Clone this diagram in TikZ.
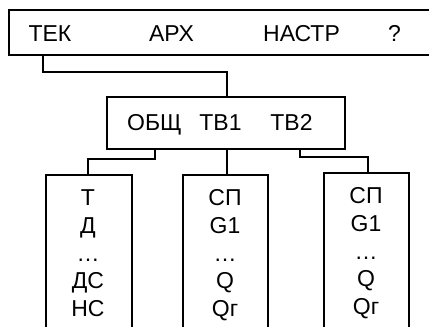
\documentclass[tikz,border=0pt]{standalone}
\usepackage{fontspec}
\setmainfont{Liberation Sans}
\begin{document}
\begin{tikzpicture}[x=1pt,y=-1pt,
  box/.style={draw=black,line width=1.5pt,inner sep=0pt,anchor=north west},
  wire/.style={draw=black,line width=1.5pt},
  lbl/.style={anchor=base,inner sep=0pt,font=\fontsize{23}{23}\selectfont}]
\useasboundingbox (0,0) rectangle (429,327);
\clip (0,0) rectangle (429,327);
\fill[white] (0,0) rectangle (429,327);
% boxes
\node[box,minimum width=430pt,minimum height=45pt] (menu) at (8,9) {};
\node[box,minimum width=238pt,minimum height=52pt] (mid) at (106,96) {};
\node[box,minimum width=86pt,minimum height=170pt] (bl) at (45,174) {};
\node[box,minimum width=85pt,minimum height=170pt] (bm) at (182,174) {};
\node[box,minimum width=85pt,minimum height=172pt] (br) at (323,172) {};
% top labels
\node[lbl] (tek) at (50,41) {ТЕК};
\node[lbl] (arh) at (171.5,41) {АРХ};
\node[lbl] (nastr) at (301.5,41) {НАСТР};
\node[lbl] (q) at (394.5,41) {?};
% middle labels
\node[lbl] (obsch) at (154.5,130) {ОБЩ};
\node[lbl] (tv1) at (220.5,130) {ТВ1};
\node[lbl] (tv2) at (291.5,130) {ТВ2};
% bottom left
\node[lbl] (l1) at (88,205) {Т};
\node[lbl] (l2) at (88,233) {Д};
\node[lbl] (l3) at (88,261) {…};
\node[lbl] (l4) at (88,288) {ДС};
\node[lbl] (l5) at (88,316) {НС};
% bottom middle
\node[lbl] (m1) at (225,205) {СП};
\node[lbl] (m2) at (225,233) {G1};
\node[lbl] (m3) at (225,261) {…};
\node[lbl] (m4) at (225,288) {Q};
\node[lbl] (m5) at (225,316) {Qг};
% bottom right
\node[lbl] (r1) at (366,203) {СП};
\node[lbl] (r2) at (366,231) {G1};
\node[lbl] (r3) at (366,259) {…};
\node[lbl] (r4) at (366,286) {Q};
\node[lbl] (r5) at (366,314) {Qг};
% connector coordinates
\coordinate (c1) at (43,72);
\coordinate (c3) at (227,148);
\coordinate (c2a) at (155,159);
\coordinate (c2b) at (88,159);
\coordinate (c4a) at (300,157);
\coordinate (c4b) at (368,157);
% connectors
\draw[wire] (menu.south -| c1) -- (c1) -- (c1 -| c3) -- (mid.north -| c3);
\draw[wire] (mid.south -| c2a) -- (c2a) -- (c2b) -- (bl.north -| c2b);
\draw[wire] (c3) -- (bm.north -| c3);
\draw[wire] (mid.south -| c4a) -- (c4a) -- (c4b) -- (br.north -| c4b);
\end{tikzpicture}
\end{document}
